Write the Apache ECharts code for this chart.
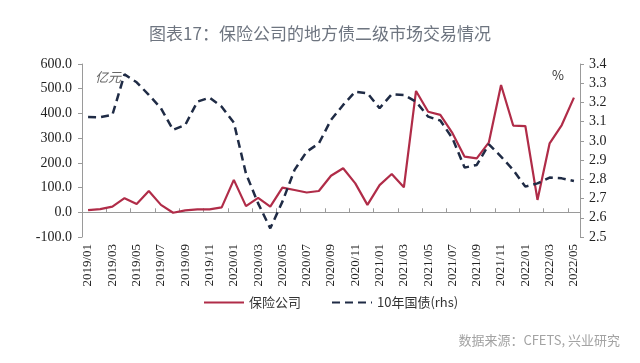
<!DOCTYPE html>
<html><head><meta charset="utf-8">
<script src="https://cdn.jsdelivr.net/npm/echarts@6/dist/echarts.min.js"></script>
<style>html,body{margin:0;padding:0;background:#fff}#c{width:640px;height:363px}</style>
</head><body><div id="c"></div>
<script>
var months = ['2019/01','2019/02','2019/03','2019/04','2019/05','2019/06','2019/07','2019/08','2019/09','2019/10','2019/11','2019/12',
'2020/01','2020/02','2020/03','2020/04','2020/05','2020/06','2020/07','2020/08','2020/09','2020/10','2020/11','2020/12',
'2021/01','2021/02','2021/03','2021/04','2021/05','2021/06','2021/07','2021/08','2021/09','2021/10','2021/11','2021/12',
'2022/01','2022/02','2022/03','2022/04','2022/05'];
var insurance = [9,13,23,57,34,86,30,-2,8,12,12,20,131,25,58,23,100,90,80,86,148,178,117,30,110,155,101,491,407,394,320,225,218,283,515,351,349,50,279,353,464];
var bond10y = [3.124,3.123,3.135,3.346,3.305,3.239,3.17,3.057,3.083,3.204,3.225,3.178,3.095,2.83,2.675,2.545,2.684,2.849,2.944,2.987,3.109,3.187,3.256,3.248,3.17,3.243,3.239,3.204,3.126,3.106,3.013,2.861,2.875,2.982,2.918,2.849,2.762,2.779,2.809,2.805,2.791];
var seriesNames = ['保险公司','10年国债(rhs)'];
var titleText = '图表17：保险公司的地方债二级市场交易情况';
var sourceText = '数据来源：CFETS, 兴业研究';

var chart = echarts.init(document.getElementById('c'), null, {renderer:'canvas'});
var serif = 'Liberation Serif';
var cjk = 'Noto Sans CJK SC';
chart.setOption({
  animation:false,
  backgroundColor:'#fff',
  title:{text:titleText,left:'center',top:20,textStyle:{fontFamily:cjk,fontSize:17,fontWeight:'normal',color:'#6e7580'}},
  legend:{left:198,top:291,itemWidth:40,itemHeight:3,itemGap:30,
    itemStyle:{opacity:0},
    textStyle:{fontFamily:cjk,fontSize:13,color:'#333'},
    data:[{name:seriesNames[0]},{name:seriesNames[1]}]},
  grid:{left:82,right:60,top:64,bottom:126},
  xAxis:[
    {type:'category',data:months,position:'bottom',boundaryGap:true,
     axisLine:{show:false},axisTick:{show:false},
     axisLabel:{rotate:90,interval:1,margin:7,fontFamily:serif,fontSize:13,color:'#222'}},
    {type:'category',data:months,boundaryGap:true,
     axisLine:{onZero:true,onZeroAxisIndex:0,lineStyle:{color:'#9a9a9a',width:1}},
     axisTick:{show:true,interval:1,length:4,inside:false,lineStyle:{color:'#9a9a9a'}},
     axisLabel:{show:false}}
  ],
  yAxis:[
    {type:'value',min:-100,max:600,interval:100,position:'left',
     axisLine:{show:true,lineStyle:{color:'#9a9a9a'}},axisTick:{show:true,length:4,lineStyle:{color:'#9a9a9a'}},
     splitLine:{show:false},
     axisLabel:{margin:10,fontFamily:serif,fontSize:14,color:'#222',formatter:function(v){return v.toFixed(1);}}},
    {type:'value',min:2.5,max:3.4,interval:0.1,position:'right',
     axisLine:{show:true,lineStyle:{color:'#9a9a9a'}},axisTick:{show:true,length:4,lineStyle:{color:'#9a9a9a'}},
     splitLine:{show:false},
     axisLabel:{margin:9,fontFamily:serif,fontSize:14,color:'#222',formatter:function(v){return v.toFixed(1);}}}
  ],
  graphic:[
    {type:'text',left:95,top:71,style:{text:'亿元',fontFamily:cjk,fontSize:13,fontStyle:'italic',fill:'#666'}},
    {type:'text',left:552,top:69,style:{text:'%',fontFamily:cjk,fontSize:13,fill:'#333'}},
    {type:'text',right:20,top:334,style:{text:sourceText,fontFamily:cjk,fontSize:13,fill:'#a3a3a3'}}
  ],
  series:[
    {name:seriesNames[0],type:'line',data:insurance,xAxisIndex:0,yAxisIndex:0,showSymbol:false,symbol:'none',
     lineStyle:{color:'#b02c48',width:2.2},itemStyle:{color:'#b02c48'}},
    {name:seriesNames[1],type:'line',data:bond10y,xAxisIndex:0,yAxisIndex:1,showSymbol:false,symbol:'none',
     lineStyle:{color:'#1f2b45',width:2.5,type:[8,5]},itemStyle:{color:'#1f2b45'}}
  ]
});
</script></body></html>
